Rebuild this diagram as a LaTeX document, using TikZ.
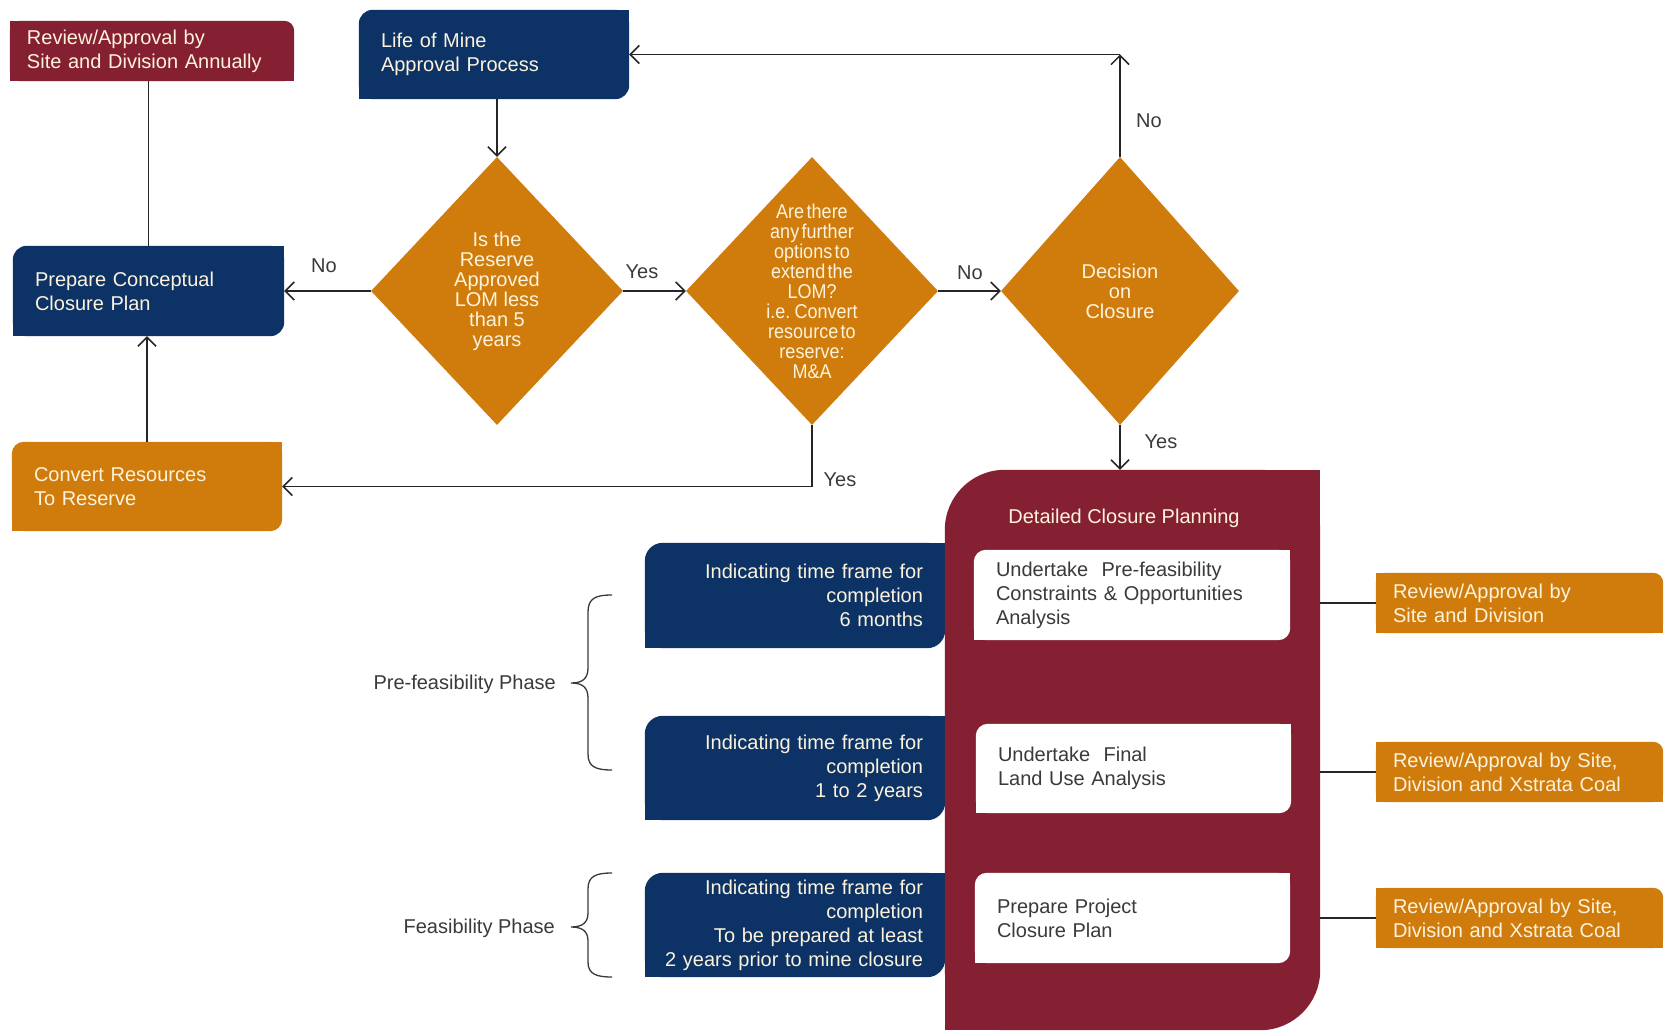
\documentclass[tikz,border=0pt]{standalone}
\usepackage{fontspec}
\setmainfont{Liberation Sans}
\newfontfamily\condfont[FakeStretch=0.9,WordSpace=0.5]{Liberation Sans}
\usetikzlibrary{shapes.geometric,arrows.meta,backgrounds}
\definecolor{navy}{HTML}{0D3366}
\definecolor{ochre}{HTML}{D07C0C}
\definecolor{wine}{HTML}{852032}
\definecolor{cream}{HTML}{FDF3DC}
\definecolor{ink}{HTML}{262626}
\definecolor{graytext}{HTML}{3A3A3A}
% fill node background with rounded NW and SE corners
\newcommand\rdfill[3]{%
  \fill[#2,rounded corners=#3pt] (#1.north west) rectangle (#1.south east);
  \fill[#2] (#1.north east) rectangle ++(-#3,#3);
  \fill[#2] (#1.south west) rectangle ++(#3,-#3);
}
% fill node background with rounded NE corner only
\newcommand\trfill[3]{%
  \fill[#2,rounded corners=#3pt] (#1.north west) rectangle (#1.south east);
  \fill[#2] (#1.north west) rectangle ++(#3,#3);
  \fill[#2] (#1.south west) rectangle ++(#3,-#3);
  \fill[#2] (#1.south east) rectangle ++(-#3,-#3);
}
\begin{document}
\begin{tikzpicture}[x=1pt,y=-1pt,
  bx/.style={inner ysep=0pt, text=cream, font=\fontsize{20}{24}\selectfont, align=left},
  wbx/.style={bx, text=graytext},
  dia/.style={diamond, fill=ochre, draw=none, inner sep=0pt},
  dtext/.style={text=cream, align=center, font=\fontsize{20}{20}\selectfont},
  lbl/.style={text=graytext, font=\fontsize{20}{24}\selectfont, inner sep=0pt},
  ln/.style={draw=ink, line width=1.5pt},
  arr/.style={ln, -{Straight Barb[length=9pt,width=18pt]}},
  brc/.style={draw=graytext, line width=1.3pt}
]
\useasboundingbox (0,0) rectangle (1665,1032);

% ---- boxes ----
\node[bx, text width=250pt, inner xsep=17pt, minimum height=60pt] (rev0) at (152,51) {Review/Approval by\\Site and Division Annually};
\node[bx, text width=226pt, inner xsep=22pt, minimum height=89pt] (lom) at (494,54.5) {Life of Mine\\Approval Process};
\node[bx, text width=227pt, inner xsep=22pt, minimum height=90pt] (pcc) at (148.5,291) {Prepare Conceptual\\Closure Plan};
\node[bx, text width=226pt, inner xsep=22pt, minimum height=89pt] (conv) at (147,486.5) {Convert Resources\\To Reserve};

% ---- diamonds ----
\node[dia, minimum width=252pt, minimum height=268pt] (d1) at (497,291) {};
\node[dtext] (d1t) at (497,291) {Is the\\Reserve\\Approved\\LOM less\\than 5\\years};
\node[dia, minimum width=252pt, minimum height=268pt] (d2) at (812,291) {};
\node[dtext, font=\condfont\fontsize{20}{20}\selectfont] (d2t) at (812,291) {Are there\\any further\\options to\\extend the\\LOM?\\i.e. Convert\\resource to\\reserve:\\M\&A};
\node[dia, minimum width=238pt, minimum height=268pt] (d3) at (1120,291) {};
\node[dtext] (d3t) at (1120,291) {Decision\\on\\Closure};

% ---- detailed closure planning ----
\node[minimum width=375pt, minimum height=560pt, inner sep=0pt] (dcp) at (1132.5,750) {};
\node[text=cream, font=\fontsize{20}{24}\selectfont, inner sep=0pt] (dcpt) at (1124,518) {Detailed Closure Planning};
\node[wbx, text width=272pt, inner xsep=22pt, minimum height=90pt] (wA) at (1132,595) {Undertake\ \ Pre-feasibility\\Constraints \& Opportunities\\Analysis};
\node[wbx, text width=271pt, inner xsep=22pt, minimum height=89pt] (wB) at (1133.5,768.5) {Undertake\ \ Final\\Land Use Analysis};
\node[wbx, text width=271pt, inner xsep=22pt, minimum height=90pt] (wC) at (1132.5,918) {Prepare Project\\Closure Plan};

% ---- time frame boxes ----
\node[bx, align=right, text width=256pt, inner xsep=22pt, minimum height=105pt] (t1) at (795,595.5) {Indicating time frame for\\completion\\6 months};
\node[bx, align=right, text width=256pt, inner xsep=22pt, minimum height=104pt] (t2) at (795,768) {Indicating time frame for\\completion\\1 to 2 years};
\node[bx, align=right, text width=256pt, inner xsep=22pt, minimum height=104pt] (t3) at (795,925) {Indicating time frame for\\completion\\To be prepared at least\\\makebox[0pt][r]{2 years prior to mine closure}};

% ---- review boxes right ----
\node[bx, text width=253pt, inner xsep=17pt, minimum height=60pt] (r1) at (1519.5,603) {Review/Approval by\\Site and Division};
\node[bx, text width=253pt, inner xsep=17pt, minimum height=60pt] (r2) at (1519.5,772) {Review/Approval by Site,\\Division and Xstrata Coal};
\node[bx, text width=253pt, inner xsep=17pt, minimum height=60pt] (r3) at (1519.5,918) {Review/Approval by Site,\\Division and Xstrata Coal};

% ---- backgrounds ----
\begin{pgfonlayer}{background}
  \fill[white] (0,0) rectangle (1665,1032);
  \trfill{rev0}{wine}{10}
  \rdfill{lom}{navy}{14}
  \rdfill{pcc}{navy}{14}
  \rdfill{conv}{ochre}{12}
  \rdfill{t1}{navy}{18}
  \rdfill{t2}{navy}{18}
  \rdfill{t3}{navy}{18}
  \rdfill{dcp}{wine}{60}
  \rdfill{wA}{white}{12}
  \rdfill{wB}{white}{12}
  \rdfill{wC}{white}{12}
  \trfill{r1}{ochre}{10}
  \trfill{r2}{ochre}{10}
  \trfill{r3}{ochre}{10}
\end{pgfonlayer}

% ---- connectors ----
\draw[ln] (rev0.south -| pcc.north) -- (pcc.north);
\draw[arr] (conv.north) -- (conv.north |- pcc.south);
\draw[arr] (lom.south -| d1.north) -- (d1.north);
\draw[arr] (d1.west) -- (pcc.east);
\draw[arr] (d1.east) -- (d2.west);
\draw[arr] (d2.east) -- (d3.west);
\draw[arr] (d3.north) -- (d3.north |- lom.east);
\draw[arr] (d3.north |- lom.east) -- (lom.east);
\draw[arr] (d2.south) |- (conv.east);
\draw[arr] (d3.south) -- (d3.south |- dcp.north);
\draw[ln] (dcp.east |- r1.west) -- (r1.west);
\draw[ln] (dcp.east |- r2.west) -- (r2.west);
\draw[ln] (dcp.east |- r3.west) -- (r3.west);

% ---- labels ----
\node[lbl] (lno1) at (324,266) {No};
\node[lbl] (lyes1) at (642,272) {Yes};
\node[lbl] (lno2) at (970,273) {No};
\node[lbl] (lno3) at (1149,121) {No};
\node[lbl] (lyes2) at (840,480) {Yes};
\node[lbl] (lyes3) at (1161,442) {Yes};

% ---- phases ----
\node[lbl, anchor=east] (pre) at (556,684) {Pre-feasibility Phase};
\node[lbl, anchor=east] (feas) at (555,928) {Feasibility Phase};
\draw[brc] (612,595) .. controls (596,595) and (588,598) .. (588,612) -- (588,668) .. controls (588,679) and (582,683) .. (571,683) .. controls (582,683) and (588,687) .. (588,698) -- (588,754) .. controls (588,767) and (596,770) .. (612,770);
\draw[brc] (612,873) .. controls (596,873) and (588,876) .. (588,889) -- (588,913) .. controls (588,923) and (582,927) .. (571,927) .. controls (582,927) and (588,931) .. (588,941) -- (588,962) .. controls (588,974) and (596,977) .. (612,977);
\end{tikzpicture}
\end{document}
